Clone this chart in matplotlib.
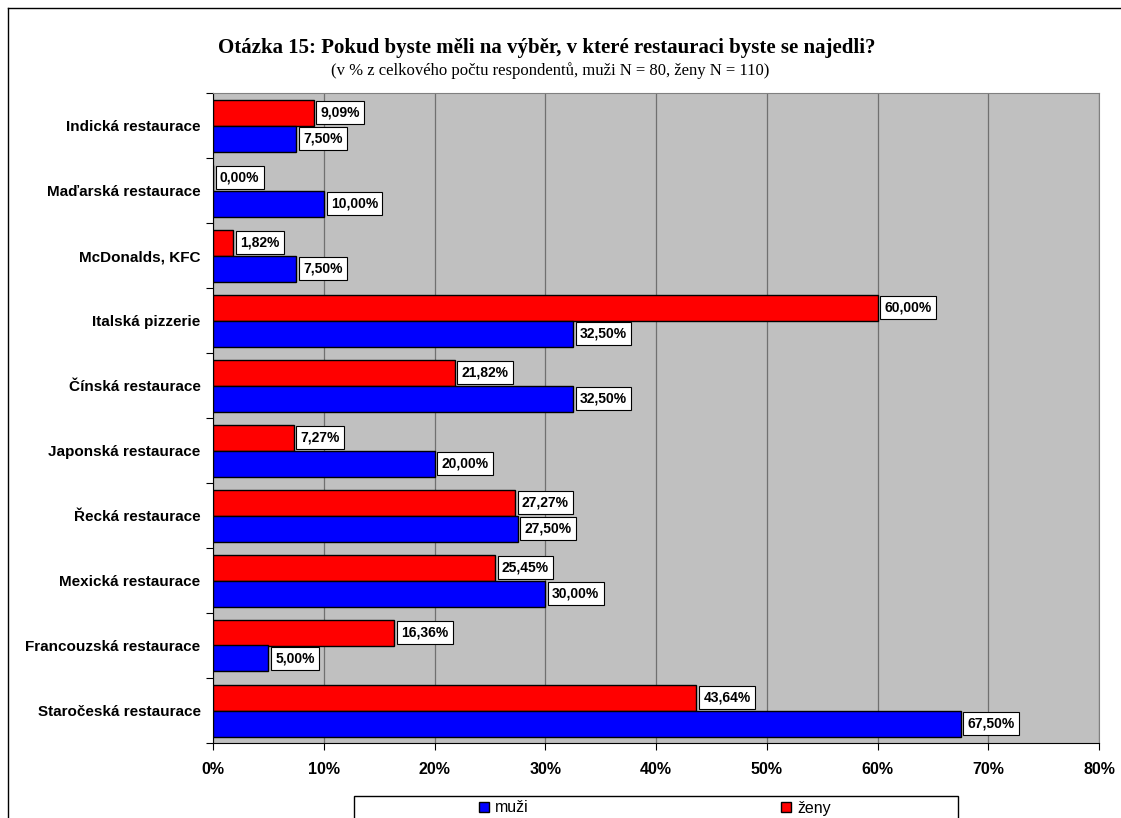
import numpy as np
import matplotlib
matplotlib.use("Agg")
import matplotlib.pyplot as plt
from matplotlib.lines import Line2D
from matplotlib.patches import Rectangle

categories = ["Indická restaurace", "Maďarská restaurace", "McDonalds, KFC",
              "Italská pizzerie", "Čínská restaurace", "Japonská restaurace",
              "Řecká restaurace", "Mexická restaurace", "Francouzská restaurace",
              "Staročeská restaurace"]
zeny = [9.09, 0.00, 1.82, 60.00, 21.82, 7.27, 27.27, 25.45, 16.36, 43.64]
muzi = [7.50, 10.00, 7.50, 32.50, 32.50, 20.00, 27.50, 30.00, 5.00, 67.50]
xticks = [0, 10, 20, 30, 40, 50, 60, 70, 80]

W, H = 1121, 818
fig = plt.figure(figsize=(W / 100, H / 100), dpi=100)
ax = fig.add_axes([213 / W, 1 - 743 / H, (1099 - 213) / W, (743 - 93) / H])
ax.set_facecolor("#C0C0C0")

y = np.arange(len(categories))
bh = 0.4
b_z = ax.barh(y - bh / 2, zeny, height=bh, color="#FF0000", edgecolor="black", linewidth=1, label="ženy", zorder=3)
b_m = ax.barh(y + bh / 2, muzi, height=bh, color="#0000FF", edgecolor="black", linewidth=1, label="muži", zorder=3)

def fmt(v):
    return f"{v:.2f}%".replace(".", ",")

for bars, vals in ((b_z, zeny), (b_m, muzi)):
    for b, v in zip(bars, vals):
        ax.annotate(fmt(v), (v, b.get_y() + b.get_height() / 2), xytext=(5, 0),
                    textcoords="offset points", ha="left", va="center",
                    fontsize=10, fontweight="bold", family="Liberation Sans",
                    bbox=dict(boxstyle="square,pad=0.3", fc="white", ec="black", lw=0.8),
                    zorder=5)

ax.set_xlim(0, 80)
ax.set_ylim(len(categories) - 0.5, -0.5)
ax.set_xticks(xticks)
ax.set_xticklabels([f"{t}%" for t in xticks], fontsize=11.5, fontweight="bold", family="Liberation Sans")
ax.tick_params(axis="x", direction="out", length=5, pad=9)
ax.grid(axis="x", color="#707070", linewidth=0.9, zorder=0)

ax.set_yticks(np.arange(len(categories) + 1) - 0.5)
ax.set_yticklabels([])
ax.tick_params(axis="y", which="major", direction="out", length=5)
ax.set_yticks(y, minor=True)
ax.set_yticklabels(categories, minor=True, fontsize=11, fontweight="bold", family="Liberation Sans")
ax.tick_params(axis="y", which="minor", length=0, pad=9)

for s in ("top", "right"):
    ax.spines[s].set_color("#808080")
for s in ("left", "bottom"):
    ax.spines[s].set_color("black")

fig.text(547 / W, 1 - 48 / H, "Otázka 15: Pokud byste měli na výběr, v které restauraci byste se najedli?",
         ha="center", va="center", fontsize=15, fontweight="bold", family="Liberation Serif")
fig.text(550 / W, 1 - 71 / H, "(v % z celkového počtu respondentů, muži N = 80, ženy N = 110)",
         ha="center", va="center", fontsize=12, family="Liberation Serif")

# outer chart border (partly cut off)
fig.add_artist(Line2D([8 / W, 1], [1 - 8 / H, 1 - 8 / H], color="black", lw=1))
fig.add_artist(Line2D([8 / W, 8 / W], [0, 1 - 8 / H], color="black", lw=1))

# legend box
fig.add_artist(Rectangle((354 / W, -0.02), (958 - 354) / W, 0.02 + 1 - 796 / H,
                         transform=fig.transFigure, fc="white", ec="black", lw=1))
fig.legend([b_m, b_z], ["muži", "ženy"], loc="center", bbox_to_anchor=(655 / W, 1 - 808 / H),
           ncol=2, frameon=False, handlelength=0.62, handleheight=0.62, handletextpad=0.4,
           columnspacing=15.8, borderpad=0, prop={"family": "Liberation Sans", "size": 11.5})

fig.savefig("out.png", dpi=100)
